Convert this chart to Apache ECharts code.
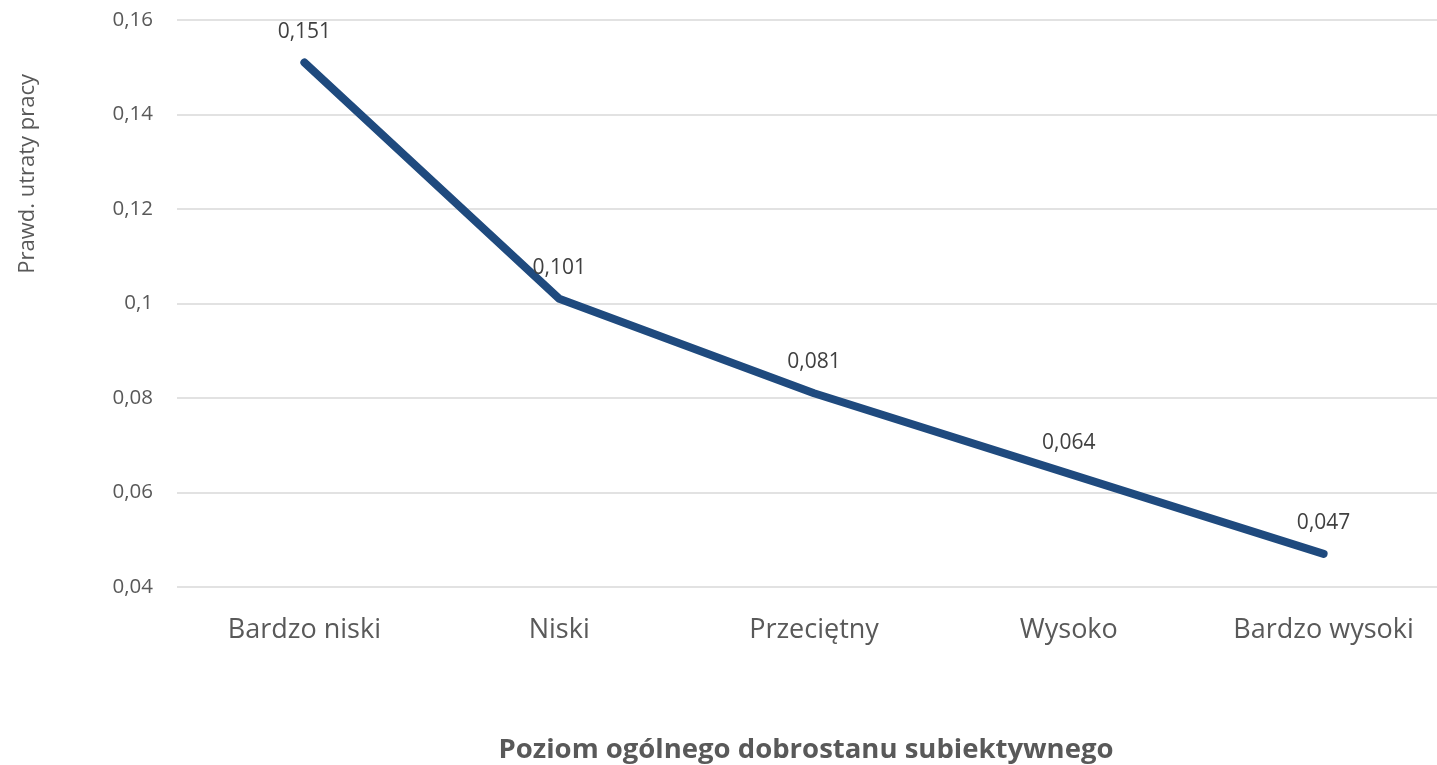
<!DOCTYPE html>
<html>
<head>
    <meta charset="utf-8">
    <title>chart</title>
    <script src="https://cdn.jsdelivr.net/npm/echarts@6/dist/echarts.min.js"></script>
    <style>
        html, body { margin: 0; padding: 0; background: #fff; }
        #main { width: 1437px; height: 765px; }
    </style>
</head>
<body>
    <div id="main"></div>
    <script>
        var categories = ['Bardzo niski', 'Niski', 'Przeciętny', 'Wysoko', 'Bardzo wysoki'];
        var values = [0.151, 0.101, 0.081, 0.064, 0.047];
        var yTitle = 'Prawd. utraty pracy';
        var xTitle = 'Poziom ogólnego dobrostanu subiektywnego';

        var font = '"Open Sans", "Noto Sans", sans-serif';
        var chart = echarts.init(document.getElementById('main'));

        // liczby z przecinkiem dziesiętnym
        function fmt(v) {
            return String(+v.toFixed(3)).replace('.', ',');
        }

        var option = {
            animation: false,
            grid: { left: 177, top: 20, width: 1274, height: 567, outerBoundsMode: 'none' },
            xAxis: {
                type: 'category',
                data: categories,
                boundaryGap: true,
                axisLine: { show: false },
                axisTick: { show: false },
                axisLabel: { color: '#595959', fontSize: 27, fontFamily: font, margin: 30 },
                name: xTitle,
                nameLocation: 'middle',
                nameGap: 149,
                nameTextStyle: { color: '#595959', fontSize: 27.5, fontWeight: 'bold', fontFamily: font, padding: [0, 0, 0, -16] }
            },
            yAxis: {
                type: 'value',
                min: 0.04,
                max: 0.16,
                interval: 0.02,
                axisLine: { show: false },
                axisTick: { show: false },
                splitLine: { lineStyle: { color: '#d9d9d9', width: 1.5 } },
                axisLabel: { color: '#595959', fontSize: 20.5, fontFamily: font, margin: 24, formatter: fmt }
            },
            graphic: [{
                type: 'text',
                left: 17,
                top: 74,
                rotation: Math.PI / 2,
                style: { text: yTitle, fill: '#595959', font: '22px ' + font }
            }],
            series: [{
                type: 'line',
                data: values,
                symbol: 'circle',
                symbolSize: 1,
                itemStyle: { color: '#1f4a7e' },
                lineStyle: { color: '#1f4a7e', width: 8, cap: 'round', join: 'round' },
                label: {
                    show: true,
                    position: 'top',
                    distance: 20,
                    color: '#404040',
                    fontSize: 21,
                    fontFamily: font,
                    formatter: function (p) { return fmt(p.value); }
                }
            }]
        };
        chart.setOption(option);
    </script>
</body>
</html>
